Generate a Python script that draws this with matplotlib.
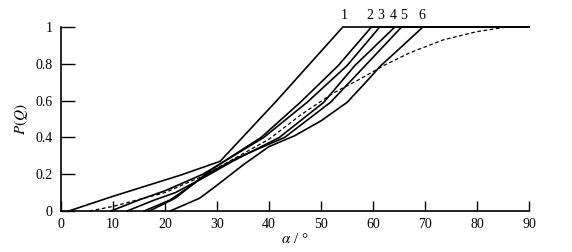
import numpy as np
import matplotlib.pyplot as plt

plt.rcParams['font.family'] = ['Liberation Serif', 'DejaVu Serif']
plt.rcParams['mathtext.fontset'] = 'stix'

# cumulative curves (alpha in degrees, P(Q))
c1_x = [1.5, 10, 23, 30.6, 41.5, 54.2, 90]
c1_y = [0.0, 0.08, 0.195, 0.27, 0.60, 1.0, 1.0]

c2_x = [17, 22, 28.7, 33, 38.5, 46, 53.3, 59.7, 90]
c2_y = [0.0, 0.07, 0.22, 0.30, 0.40, 0.59, 0.79, 1.0, 1.0]

c3_x = [9.6, 15, 20, 27.3, 32, 39, 47.3, 55, 61.3, 90]
c3_y = [0.0, 0.06, 0.11, 0.20, 0.28, 0.40, 0.59, 0.79, 1.0, 1.0]

c4_x = [12.7, 18, 22, 28, 33, 42, 50.5, 56.5, 64.2, 90]
c4_y = [0.0, 0.06, 0.10, 0.19, 0.27, 0.40, 0.59, 0.79, 1.0, 1.0]

c5_x = [16, 21, 28.7, 34, 43, 51.8, 58.5, 65.5, 90]
c5_y = [0.0, 0.06, 0.21, 0.29, 0.40, 0.59, 0.79, 1.0, 1.0]

c6_x = [21, 26.7, 30, 35, 40, 45, 50, 55, 58.3, 61.5, 65, 69.6, 90]
c6_y = [0.0, 0.07, 0.14, 0.25, 0.35, 0.41, 0.49, 0.59, 0.69, 0.79, 0.88, 1.0, 1.0]

dash_x = [5.5, 10, 20, 27.3, 33, 40, 46, 52.3, 57.7, 62, 67.1, 73.5, 80, 85.7, 90]
dash_y = [0.0, 0.025, 0.10, 0.19, 0.28, 0.39, 0.52, 0.64, 0.72, 0.79, 0.86, 0.93, 0.975, 1.0, 1.0]

curve_labels = ['1', '2', '3', '4', '5', '6']
label_x = [54.4, 59.4, 61.5, 63.8, 65.9, 69.4]

x_ticks = [0, 10, 20, 30, 40, 50, 60, 70, 80, 90]
y_ticks = [0, 0.2, 0.4, 0.6, 0.8, 1]
y_ticklabels = ['0', '0.2', '0.4', '0.6', '0.8', '1']

fig = plt.figure(figsize=(5.72, 2.52), dpi=100)
ax = fig.add_axes([61 / 572, 1 - 211 / 252, 468 / 572, 184 / 252])

for xs, ys in [(c1_x, c1_y), (c2_x, c2_y), (c3_x, c3_y),
               (c4_x, c4_y), (c5_x, c5_y), (c6_x, c6_y)]:
    ax.plot(xs, ys, color='black', linewidth=1.2, clip_on=False)
ax.plot(dash_x, dash_y, color='black', linewidth=0.9, linestyle=(0, (3, 2)), clip_on=False)

for lab, lx in zip(curve_labels, label_x):
    ax.text(lx, 1.025, lab, ha='center', va='bottom', fontsize=10)

ax.set_xlim(0, 90)
ax.set_ylim(0, 1)
ax.spines['top'].set_visible(False)
ax.spines['right'].set_visible(False)
ax.spines['left'].set_linewidth(1.2)
ax.spines['bottom'].set_linewidth(1.2)

ax.set_xticks(x_ticks)
ax.set_yticks(y_ticks)
ax.set_yticklabels(y_ticklabels)
ax.tick_params(axis='x', direction='in', length=7, width=1, labelsize=10, pad=5)
ax.tick_params(axis='y', direction='in', length=10, width=1, labelsize=10, pad=6)

ax.set_xlabel(r'$\alpha$ / °', fontsize=11, labelpad=1)
ax.set_ylabel('$P(Q)$', fontsize=11, labelpad=4)

plt.savefig('out.png', dpi=100)
plt.close()
